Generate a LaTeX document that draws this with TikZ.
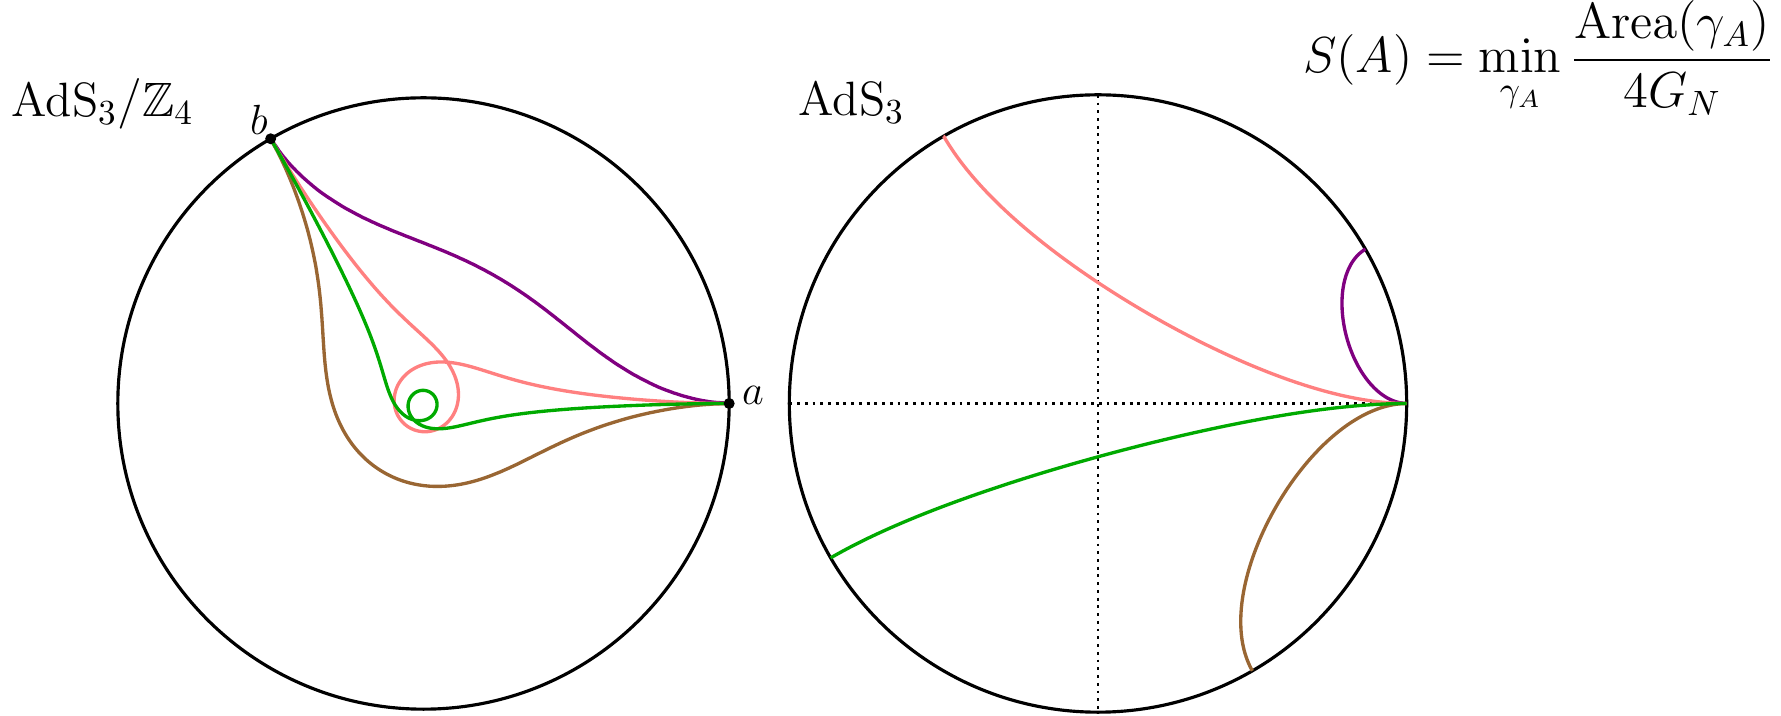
\documentclass[tikz,border=0pt]{standalone}
\usepackage{amsmath,amssymb}
\definecolor{cpurple}{RGB}{128,0,128}
\definecolor{cpink}{RGB}{255,128,128}
\definecolor{cgreen}{RGB}{0,170,0}
\definecolor{cbrown}{RGB}{153,102,51}
\begin{document}
\begin{tikzpicture}[x=0.01cm,y=-0.01cm,
  bd/.style={line width=0.9pt, black},
  geo/.style={line width=0.95pt, line join=round},
  axisline/.style={line width=0.6pt, dash pattern=on 0.8pt off 1.4pt},
  lbl/.style={inner sep=0pt, font=\fontsize{13.7pt}{16pt}\selectfont},
  ptlbl/.style={inner sep=0pt, font=\fontsize{12pt}{14pt}\selectfont},
  declare function={
    uu(\sa,\ha)=cos(\ha*cos(\sa))/cos(\ha);
    ph(\sa,\ha)=\ha-\ha*cos(\sa);
    rr(\sa,\ha)=atan2(1,sqrt(abs(uu(\sa,\ha)^2-1)))/90;
    rl(\sa,\ha)=atan2(1,4*sqrt(abs(uu(\sa,\ha)^2-1)))/90;
  }]
\useasboundingbox (0,0) rectangle (1781,716);

% ---------- left disc: AdS3/Z4 ----------
\begin{scope}[shift={(423.5,403.5)}, x=3.055cm, y=3.055cm]
  \coordinate (LO) at (0,0);
  \coordinate (a) at (1,0);
  \coordinate (b) at (120:1);
  \draw[bd] (LO) circle (3.055cm);
  \draw[geo,cpurple] (a) -- plot[domain=0:180,samples=300,variable=\sa]
     ({rl(\sa,15)*cos(4*ph(\sa,15))},{rl(\sa,15)*sin(4*ph(\sa,15))}) -- (b);
  \draw[geo,cbrown] (a) -- plot[domain=0:180,samples=300,variable=\sa]
     ({rl(\sa,-30)*cos(4*ph(\sa,-30))},{rl(\sa,-30)*sin(4*ph(\sa,-30))}) -- (b);
  \draw[geo,cpink] (a) -- plot[domain=0:180,samples=400,variable=\sa]
     ({rl(\sa,60)*cos(4*ph(\sa,60))},{rl(\sa,60)*sin(4*ph(\sa,60))}) -- (b);
  \draw[geo,cgreen] (a) -- plot[domain=0:180,samples=500,variable=\sa]
     ({rl(\sa,-75)*cos(4*ph(\sa,-75))},{rl(\sa,-75)*sin(4*ph(\sa,-75))}) -- (b);
  \fill (a) circle (0.055cm);
  \fill (b) circle (0.055cm);
\end{scope}

% ---------- right disc: AdS3 ----------
\begin{scope}[shift={(1098,403.5)}, x=3.085cm, y=3.085cm]
  \coordinate (RO) at (0,0);
  \coordinate (RE) at (1,0);
  \coordinate (RW) at (-1,0);
  \coordinate (RN) at (0,1);
  \coordinate (RS) at (0,-1);
  \coordinate (Rpu) at (30:1);
  \coordinate (Rpi) at (120:1);
  \coordinate (Rgr) at (-150:1);
  \coordinate (Rbr) at (-60:1);
  \draw[axisline] (RW) -- (RE);
  \draw[axisline] (RN) -- (RS);
  \draw[bd] (RO) circle (3.085cm);
  \draw[geo,cpurple] (RE) -- plot[domain=0:180,samples=200,variable=\sa]
     ({rr(\sa,15)*cos(ph(\sa,15))},{rr(\sa,15)*sin(ph(\sa,15))}) -- (Rpu);
  \draw[geo,cpink] (RE) -- plot[domain=0:180,samples=200,variable=\sa]
     ({rr(\sa,60)*cos(ph(\sa,60))},{rr(\sa,60)*sin(ph(\sa,60))}) -- (Rpi);
  \draw[geo,cbrown] (RE) -- plot[domain=0:180,samples=200,variable=\sa]
     ({rr(\sa,-30)*cos(ph(\sa,-30))},{rr(\sa,-30)*sin(ph(\sa,-30))}) -- (Rbr);
  \draw[geo,cgreen] (RE) -- plot[domain=0:180,samples=200,variable=\sa]
     ({rr(\sa,-75)*cos(ph(\sa,-75))},{rr(\sa,-75)*sin(ph(\sa,-75))}) -- (Rgr);
\end{scope}

% ---------- labels ----------
\node[lbl, anchor=base west] (tleft) at (11,117) {AdS$_3/\mathbb{Z}_4$};
\node[lbl, anchor=base west] (tright) at (798,116) {AdS$_3$};
\node[ptlbl] (la) at (753,395) {$a$};
\node[ptlbl] (lb) at (259,120) {$b$};
\node[lbl, anchor=base east] (formula) at (1775,73)
  {$\displaystyle S(A)=\min_{\gamma_A}\frac{\mathrm{Area}(\gamma_A)}{4G_N}$};
\end{tikzpicture}
\end{document}
